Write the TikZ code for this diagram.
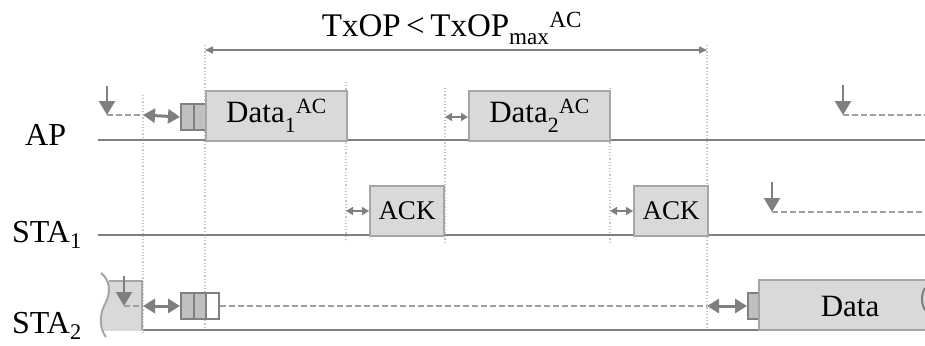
\documentclass[tikz,border=0pt]{standalone}
\usepackage{fontspec}
\setmainfont{Liberation Serif}
\usetikzlibrary{arrows.meta}
\definecolor{lineg}{HTML}{7F7F7F}
\definecolor{boxfill}{HTML}{D9D9D9}
\definecolor{boxline}{HTML}{A6A6A6}
\definecolor{cellfill}{HTML}{BFBFBF}
\definecolor{dotg}{HTML}{C4C4C4}
\newcommand{\bigtxt}{\fontsize{32}{36}\selectfont}
\newcommand{\boxtxt}{\fontsize{31}{34}\selectfont}
\newcommand{\acktxt}{\fontsize{27}{30}\selectfont}
\newcommand{\lowsub}[1]{\raisebox{-0.12em}{\textsubscript{#1}}}
\begin{document}
\begin{tikzpicture}[x=1pt,y=-1pt,
  axis/.style={draw=lineg,line width=2.2pt},
  guide/.style={draw=dotg,line width=1.2pt,dotted},
  frame/.style={draw=boxline,fill=boxfill,line width=2pt,inner sep=0pt,anchor=north west},
  cell/.style={draw=lineg,fill=cellfill,line width=2pt,inner sep=0pt,anchor=north west,minimum width=12.5pt,minimum height=26pt},
  emptycell/.style={cell,fill=white},
  gap/.style={draw=lineg,line width=3pt,{Triangle[length=12pt,width=14pt]}-{Triangle[length=12pt,width=14pt]}},
  sifs/.style={draw=lineg,line width=1.6pt,{Triangle[length=7pt,width=8pt]}-{Triangle[length=7pt,width=8pt]}},
  span/.style={draw=lineg,line width=1.4pt,{Triangle[length=8pt,width=7pt]}-{Triangle[length=8pt,width=7pt]}},
  drop/.style={draw=lineg,line width=2.2pt,-{Triangle[length=14pt,width=16pt]}},
  wait/.style={draw=lineg!75,line width=1.8pt,dash pattern=on 6pt off 3pt},
  lbl/.style={anchor=base west,inner sep=0pt,font=\bigtxt}
]
\useasboundingbox (0,0) rectangle (925,345);

% dotted time guides
\foreach \gx/\ya/\yb in {143/95/332, 205/45/332, 346/82/242, 445/88/242, 610/88/242, 707/45/332}
  \draw[guide] (\gx,\ya) -- (\gx,\yb);

% station time axes
\coordinate (apL) at (98,140);   \coordinate (apR) at (925,140);
\coordinate (s1L) at (98,235);   \coordinate (s1R) at (925,235);
\coordinate (s2L) at (143,330);  \coordinate (s2R) at (760,330);
\draw[axis] (apL) -- (apR);
\draw[axis] (s1L) -- (s1R);
\draw[axis] (s2L) -- (s2R);

% station labels
\node[lbl] (ap) at (25,145) {AP};
\node[lbl] (sta1) at (12,242) {STA\textsubscript{1}};
\node[lbl] (sta2) at (12,333) {STA\textsubscript{2}};

% TxOP span
\coordinate (txA) at (205,50);
\coordinate (txB) at (707,50);
\draw[span] (txA) -- (txB);
\node[anchor=base,inner sep=0pt,font=\fontsize{33}{36}\selectfont] (title) at (452,37)
  {TxOP\,<\,TxOP\lowsub{max}\textsuperscript{AC}};

% ---- AP ----
\coordinate (apDropTop) at (107,86);
\coordinate (apDrop) at (107,115);
\coordinate (apBo) at (143,115);
\draw[drop] (apDropTop) -- (apDrop);
\draw[wait] (apDrop) -- (apBo);
\node[cell] (apc1) at (180,103) {};
\node[cell] (apc2) at (192.5,103) {};
\draw[gap] (apBo) -- (apc1.west);
\node[frame,minimum width=141pt,minimum height=50pt,font=\boxtxt] (d1) at (205,90)
  {Data\lowsub{1}\textsuperscript{AC}};
\coordinate (d2s) at (445,117);
\node[frame,minimum width=141pt,minimum height=50pt,font=\boxtxt] (d2) at (468,90)
  {Data\lowsub{2}\textsuperscript{AC}};
\draw[sifs] (d2s) -- (d2s -| d2.west);
\coordinate (apDrop2Top) at (843,85);
\coordinate (apDrop2) at (843,115);
\coordinate (apEnd) at (925,115);
\draw[drop] (apDrop2Top) -- (apDrop2);
\draw[wait] (apDrop2) -- (apEnd);

% ---- STA1 ----
\node[frame,minimum width=74pt,minimum height=50pt,font=\acktxt] (ack1) at (369,185) {ACK};
\coordinate (a1s) at (346,211);
\draw[sifs] (a1s) -- (a1s -| ack1.west);
\node[frame,minimum width=74pt,minimum height=50pt,font=\acktxt] (ack2) at (633,185) {ACK};
\coordinate (a2s) at (610,211);
\draw[sifs] (a2s) -- (a2s -| ack2.west);
\coordinate (s1DropTop) at (772,182);
\coordinate (s1Drop) at (772,212);
\coordinate (s1End) at (925,212);
\draw[drop] (s1DropTop) -- (s1Drop);
\draw[wait] (s1Drop) -- (s1End);

% ---- STA2 ----
% torn piece of an earlier frame
\begin{scope}
  \clip (95,281) rectangle (143,330);
  \fill[boxfill] (101,273) .. controls (110,280) and (111,292) .. (106,302)
    .. controls (99,314) and (99,328) .. (106,337) -- (143,337) -- (143,273) -- cycle;
\end{scope}
\draw[boxline,line width=2pt] (109,281) -- (142,281) -- (142,330);
\draw[boxline,line width=2pt] (101,273) .. controls (110,280) and (111,292) .. (106,302)
    .. controls (99,314) and (99,328) .. (106,337);
\coordinate (s2DropTop) at (124,276);
\coordinate (s2Drop) at (124,306);
\coordinate (s2Bo) at (143,306);
\draw[drop] (s2DropTop) -- (s2Drop);
\draw[wait] (s2Drop) -- (s2Bo);
\node[cell] (sc1) at (180,292) {};
\node[cell] (sc2) at (192.5,292) {};
\node[emptycell] (sc3) at (205,292) {};
\draw[gap] (s2Bo) -- (sc1.west);
\coordinate (s2Resume) at (707,306);
\draw[wait] (sc3.east) -- (s2Resume);
\node[cell,minimum width=12pt] (sc4) at (747,292) {};
\draw[gap] (s2Resume) -- (sc4.west);
\fill[boxfill] (759,280) rectangle (925,330);
\draw[boxline,line width=2pt] (925,280) -- (759,280) -- (759,330) -- (925,330);
\draw[lineg,line width=2pt] (925,288) .. controls (921,294) and (921,304) .. (925,310);
\node[font=\boxtxt,inner sep=0pt] (dat) at (850,306) {Data};
\end{tikzpicture}
\end{document}
